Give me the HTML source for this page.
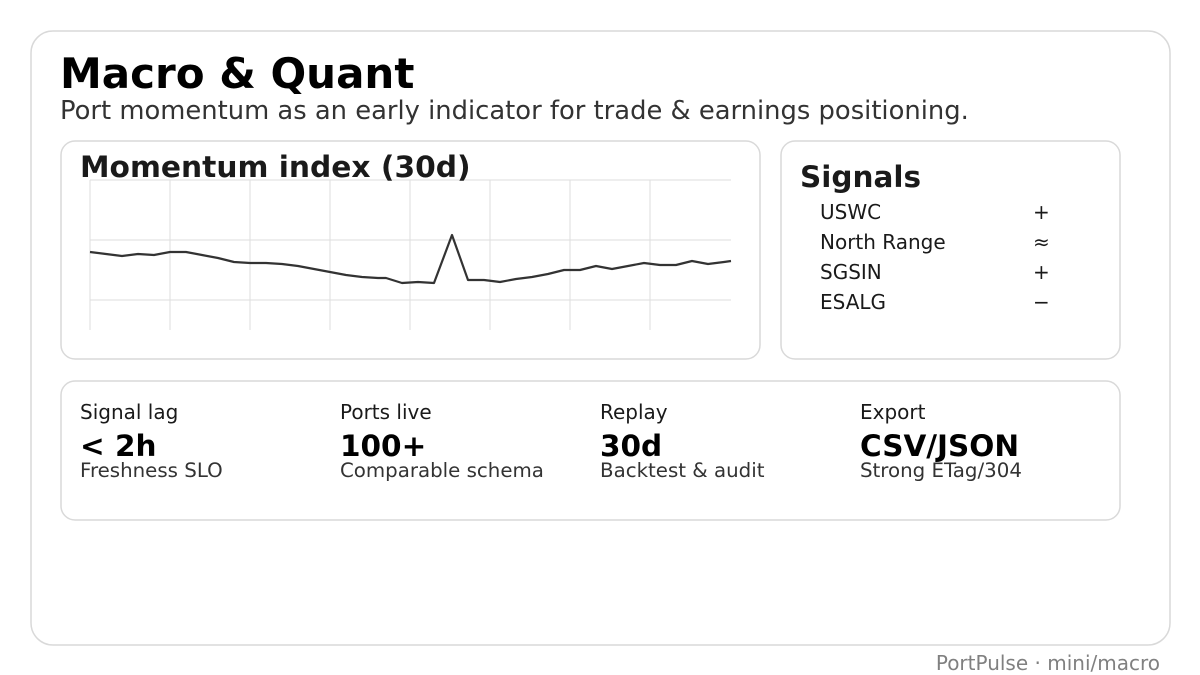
<!DOCTYPE html>
<html><head><meta charset="utf-8"><style>
html,body{margin:0;padding:0;background:#fff;}
svg{display:block;font-family:"DejaVu Sans","Liberation Sans",sans-serif;}
</style></head><body>
<svg width="1200" height="675" viewBox="0 0 1200 675" xmlns="http://www.w3.org/2000/svg">
<rect x="0" y="0" width="1200" height="675" fill="#fff"/>
<rect x="31" y="31" width="1139" height="614" rx="22" fill="#fff" stroke="#d9d9d9" stroke-width="1.5"/>
<text x="60" y="88" font-size="42" font-weight="bold" fill="#000">Macro &amp; Quant</text>
<text x="60" y="119" font-size="25.8" fill="#333">Port momentum as an early indicator for trade &amp; earnings positioning.</text>

<rect x="61" y="141" width="699" height="218" rx="14" fill="#fff" stroke="#d9d9d9" stroke-width="1.5"/>
<g stroke="#dddddd" stroke-width="1">
<line x1="90" y1="180" x2="731" y2="180"/><line x1="90" y1="240" x2="731" y2="240"/><line x1="90" y1="300" x2="731" y2="300"/>
<line x1="90" y1="180" x2="90" y2="330"/><line x1="170" y1="180" x2="170" y2="330"/><line x1="250" y1="180" x2="250" y2="330"/><line x1="330" y1="180" x2="330" y2="330"/><line x1="410" y1="180" x2="410" y2="330"/><line x1="490" y1="180" x2="490" y2="330"/><line x1="570" y1="180" x2="570" y2="330"/><line x1="650" y1="180" x2="650" y2="330"/>
</g>
<text x="80" y="177" font-size="29.7" font-weight="bold" fill="#1a1a1a">Momentum index (30d)</text>
<polyline fill="none" stroke="#333" stroke-width="2.2" stroke-linejoin="round" points="90,252 106,254 122,256 138,254 154,255 170,252 186,252 202,255 218,258 234,262 250,263 266,263 282,264 298,266 314,269 330,272 346,275 362,277 378,278 386,278 402,283 418,282 434,283 452,235 468,280 484,280 500,282 516,279 532,277 548,274 564,270 580,270 596,266 612,269 628,266 644,263 660,265 676,265 692,261 708,264 724,262 731,261"/>

<rect x="781" y="141" width="339" height="218" rx="14" fill="#fff" stroke="#d9d9d9" stroke-width="1.5"/>
<text x="800" y="187" font-size="29.5" font-weight="bold" fill="#1a1a1a">Signals</text>
<g font-size="20" fill="#1a1a1a">
<text x="820" y="219">USWC</text><text x="1033" y="219">+</text>
<text x="820" y="249">North Range</text><text x="1033" y="249">≈</text>
<text x="820" y="279">SGSIN</text><text x="1033" y="279">+</text>
<text x="820" y="309">ESALG</text><text x="1033" y="309">−</text>
</g>

<rect x="61" y="381" width="1059" height="139" rx="14" fill="#fff" stroke="#d9d9d9" stroke-width="1.5"/>
<g fill="#1a1a1a">
<g font-size="20"><text x="80" y="419">Signal lag</text><text x="340" y="419">Ports live</text><text x="600" y="419">Replay</text><text x="860" y="419">Export</text></g>
<g font-size="29.5" font-weight="bold" fill="#000"><text x="80" y="456">&lt; 2h</text><text x="340" y="456">100+</text><text x="600" y="456">30d</text><text x="860" y="456">CSV/JSON</text></g>
<g font-size="19.8" fill="#333"><text x="80" y="477">Freshness SLO</text><text x="340" y="477">Comparable schema</text><text x="600" y="477">Backtest &amp; audit</text><text x="860" y="477">Strong ETag/304</text></g>
</g>
<text x="1160" y="670" font-size="20" fill="#808080" text-anchor="end">PortPulse · mini/macro</text>
</svg>
</body></html>
